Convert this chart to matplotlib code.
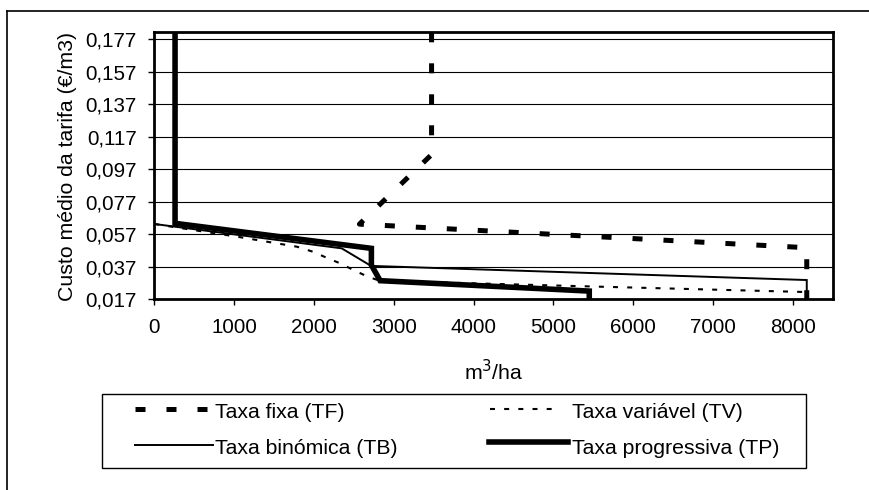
import matplotlib
matplotlib.use("Agg")
import matplotlib.pyplot as plt
from matplotlib.lines import Line2D
from matplotlib.patches import Rectangle

plt.rcParams['font.family'] = ['Liberation Sans', 'DejaVu Sans']

# ---- data ----
tf_x = [3474, 3474, 2570, 8175, 8175]
tf_y = [0.1813, 0.106, 0.0632, 0.0487, 0.017]

tv_x = [0, 485, 1036, 1412, 1788, 1989, 2164, 2327, 2515, 2678, 2830, 5584, 8175]
tv_y = [0.0633, 0.0596, 0.0555, 0.0524, 0.0493, 0.0462, 0.0424, 0.0391, 0.0345,
        0.0308, 0.0283, 0.0247, 0.0214]

tb_x = [0, 2348, 2716, 8175, 8175]
tb_y = [0.0633, 0.0483, 0.0375, 0.0288, 0.017]

tp_x = [260, 260, 2720, 2720, 2830, 5450, 5450]
tp_y = [0.1813, 0.0637, 0.0483, 0.0380, 0.0284, 0.0220, 0.017]

series_labels = ["Taxa fixa (TF)", "Taxa variável (TV)",
                 "Taxa binómica (TB)", "Taxa progressiva (TP)"]

y_ticks = [0.017, 0.037, 0.057, 0.077, 0.097, 0.117, 0.137, 0.157, 0.177]
y_tick_labels = ["0,017", "0,037", "0,057", "0,077", "0,097", "0,117", "0,137",
                 "0,157", "0,177"]
x_ticks = [0, 1000, 2000, 3000, 4000, 5000, 6000, 7000, 8000]
x_tick_labels = [str(v) for v in x_ticks]

W, H = 869, 490
fig = plt.figure(figsize=(W / 100, H / 100), dpi=100)

L, R, T, B = 154.3, 832.7, 32.3, 299.2
ax = fig.add_axes([L / W, 1 - B / H, (R - L) / W, (B - T) / H])
ax.set_xlim(0, 8500)
ax.set_ylim(0.017, 0.1813)

# styles
tf_style = dict(color='black', lw=3.6, linestyle=(0, (2.0, 4.2)), dash_capstyle='butt')
tv_style = dict(color='black', lw=1.5, linestyle=(0, (2.4, 4.4)), dash_capstyle='butt')
tb_style = dict(color='black', lw=1.4, solid_joinstyle='miter')
tp_style = dict(color='black', lw=4.0, solid_joinstyle='miter')

ax.plot(tv_x, tv_y, zorder=3, **tv_style)
ax.plot(tb_x, tb_y, zorder=3, **tb_style)
ax.plot(tp_x, tp_y, zorder=4, **tp_style)
ax.plot(tf_x, tf_y, zorder=5, **tf_style)

ax.set_yticks(y_ticks)
ax.set_yticklabels(y_tick_labels)
ax.set_xticks(x_ticks)
ax.set_xticklabels(x_tick_labels)
ax.yaxis.grid(True, color='black', lw=0.8)
ax.set_axisbelow(True)
ax.tick_params(axis='y', direction='out', length=4.3, width=1.0, pad=8.5, labelsize=14.8)
ax.tick_params(axis='x', direction='out', length=4.3, width=1.0, pad=9.5, labelsize=14.8)
for s in ax.spines.values():
    s.set_linewidth(2.0)

# axis titles
fig.text(68 / W, 1 - 166.5 / H, "Custo médio da tarifa (€/m3)", rotation=90,
         ha='center', va='center', fontsize=15.3)
fig.text((L + R) / 2 / W, 1 - 372 / H, "m$^3$/ha", ha='center', va='center', fontsize=15.3)

# outer frame of the original chart area
fig.add_artist(Line2D([7.3 / W, 1.0], [1 - 10.7 / H] * 2, transform=fig.transFigure,
                      color='black', lw=1.2))
fig.add_artist(Line2D([7.3 / W] * 2, [0, 1 - 10.7 / H], transform=fig.transFigure,
                      color='black', lw=1.2))

# legend box
lx0, lx1, ly0, ly1 = 101.7, 806, 394.3, 467.5
fig.add_artist(Rectangle((lx0 / W, 1 - ly1 / H), (lx1 - lx0) / W, (ly1 - ly0) / H,
                         transform=fig.transFigure, fill=False, edgecolor='black', lw=1.0))
entries = [
    (tf_style, 135, 208, 409, 215, 417.5, series_labels[0]),
    (tv_style, 490, 557, 409, 572.5, 417.5, series_labels[1]),
    (tb_style, 135, 213, 445, 215, 453.5, series_labels[2]),
    (tp_style, 489, 568, 442, 572, 453.5, series_labels[3]),
]
for st, hx0, hx1, hy, tx, ty, lab in entries:
    fig.add_artist(Line2D([hx0 / W, hx1 / W], [1 - hy / H] * 2, transform=fig.transFigure, **st))
    fig.text(tx / W, 1 - ty / H, lab, ha='left', va='baseline', fontsize=15.3)

fig.savefig("out.png", dpi=100)
